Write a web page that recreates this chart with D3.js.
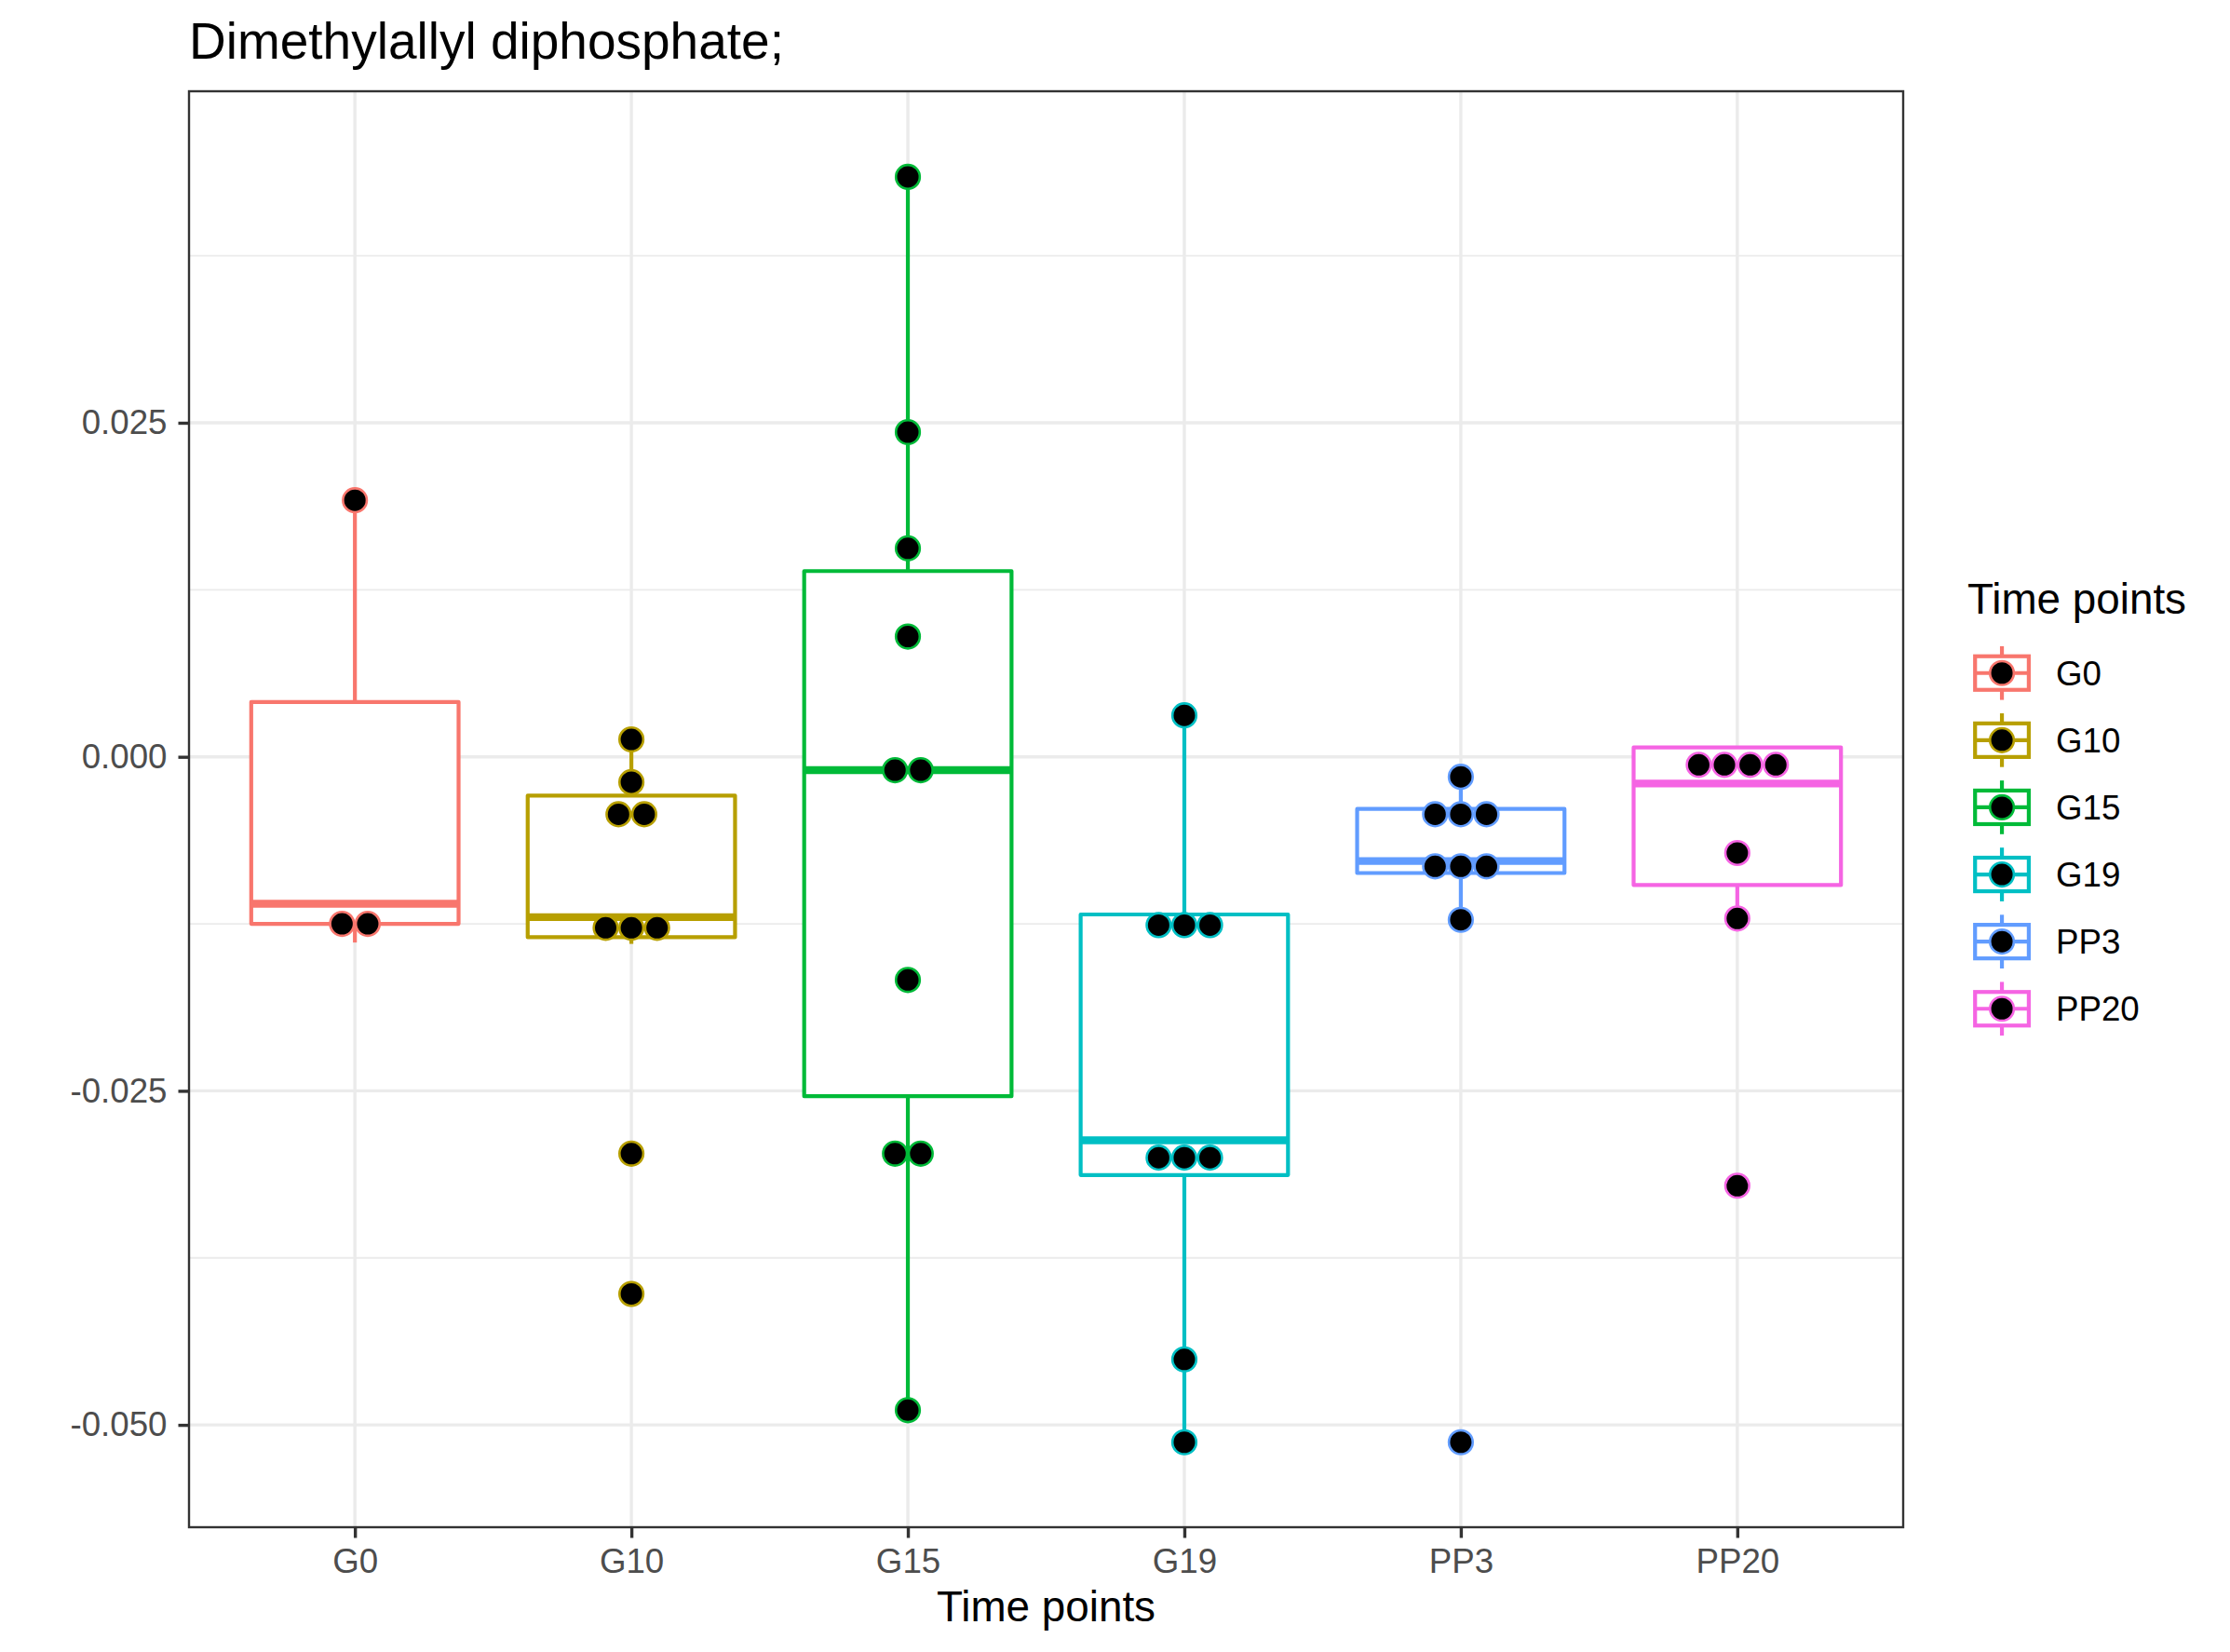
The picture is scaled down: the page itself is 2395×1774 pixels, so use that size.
<!DOCTYPE html>
<html><head><meta charset="utf-8">
<script src="https://cdn.jsdelivr.net/npm/d3@7"></script>
<style>
body{margin:0;background:#fff}
svg{display:block}
text{font-family:"Liberation Sans",Arial,Helvetica,sans-serif}
</style>
</head><body>
<svg id="chart" width="2395" height="1774"></svg>
<script>
// ---- data ----
const categories = ["G0", "G10", "G15", "G19", "PP3", "PP20"];
const colors = ["#F8766D", "#B79F00", "#00BA38", "#00BFC4", "#619CFF", "#F564E3"];
const whiskerLow  = [-0.0139, -0.0140, -0.0489, -0.0513, -0.0122, -0.0121];
const q1          = [-0.0125, -0.0135, -0.0254, -0.0313, -0.0087, -0.0096];
const median      = [-0.0110, -0.0120, -0.0010, -0.0287, -0.0078, -0.0020];
const q3          = [ 0.0041, -0.0029,  0.0139, -0.0118, -0.0039,  0.0007];
const whiskerHigh = [ 0.0192,  0.0013,  0.0434,  0.0031, -0.0015,  0.0007];
const dotValues = [
  [0.0192, -0.0125, -0.0125],
  [0.0013, -0.0019, -0.0043, -0.0043, -0.0128, -0.0128, -0.0128, -0.0297, -0.0402],
  [0.0434, 0.0243, 0.0156, 0.0090, -0.0010, -0.0010, -0.0167, -0.0297, -0.0297, -0.0489],
  [0.0031, -0.0126, -0.0126, -0.0126, -0.0300, -0.0300, -0.0300, -0.0451, -0.0513],
  [-0.0015, -0.0043, -0.0043, -0.0043, -0.0082, -0.0082, -0.0082, -0.0122, -0.0513],
  [-0.0006, -0.0006, -0.0006, -0.0006, -0.0072, -0.0121, -0.0321]
];
const yMajorTicks = [-0.05, -0.025, 0, 0.025];
const yTickLabels = ["-0.050", "-0.025", "0.000", "0.025"];
const yMinorTicks = [-0.0375, -0.0125, 0.0125, 0.0375];
const yDomain = [-0.05766, 0.04981];
const titleText = "Dimethylallyl diphosphate;";
const xTitleText = "Time points";
const legendTitleText = "Time points";

// ---- layout ----
const P = {left: 203, right: 2044, top: 98, bottom: 1640};
const svg = d3.select("#chart");
svg.append("rect").attr("width", 2395).attr("height", 1774).attr("fill", "#fff");

const x = d3.scalePoint().domain(categories).range([P.left, P.right]).padding(0.6);
const y = d3.scaleLinear().domain(yDomain).range([P.bottom, P.top]);
const boxW = x.step() * 0.75;
const dotR = 12.8, dotStroke = 2.6, dotStep = 27.6;
const lw = 4.2;

// grid
const grid = svg.append("g");
grid.selectAll("line.minor").data(yMinorTicks).join("line")
  .attr("x1", P.left).attr("x2", P.right)
  .attr("y1", d => y(d)).attr("y2", d => y(d))
  .attr("stroke", "#EBEBEB").attr("stroke-width", 1.8);
grid.selectAll("line.majy").data(yMajorTicks).join("line")
  .attr("x1", P.left).attr("x2", P.right)
  .attr("y1", d => y(d)).attr("y2", d => y(d))
  .attr("stroke", "#EBEBEB").attr("stroke-width", 3.4);
grid.selectAll("line.majx").data(categories).join("line")
  .attr("y1", P.top).attr("y2", P.bottom)
  .attr("x1", d => x(d)).attr("x2", d => x(d))
  .attr("stroke", "#EBEBEB").attr("stroke-width", 3.4);

// boxplots
const boxes = svg.append("g");
categories.forEach((c, i) => {
  const g = boxes.append("g");
  const cx = x(c), col = colors[i];
  g.append("line").attr("x1", cx).attr("x2", cx)
    .attr("y1", y(q3[i])).attr("y2", y(whiskerHigh[i]))
    .attr("stroke", col).attr("stroke-width", lw);
  g.append("line").attr("x1", cx).attr("x2", cx)
    .attr("y1", y(q1[i])).attr("y2", y(whiskerLow[i]))
    .attr("stroke", col).attr("stroke-width", lw);
  g.append("rect").attr("x", cx - boxW / 2).attr("width", boxW)
    .attr("y", y(q3[i])).attr("height", y(q1[i]) - y(q3[i]))
    .attr("fill", "#fff").attr("stroke", col).attr("stroke-width", lw)
    .attr("stroke-linejoin", "round");
  g.append("line").attr("x1", cx - boxW / 2).attr("x2", cx + boxW / 2)
    .attr("y1", y(median[i])).attr("y2", y(median[i]))
    .attr("stroke", col).attr("stroke-width", lw * 2);
});

// dots (stacked centered)
const dots = svg.append("g");
categories.forEach((c, i) => {
  const groups = d3.groups(dotValues[i], v => v);
  groups.forEach(([v, arr]) => {
    const n = arr.length;
    arr.forEach((_, k) => {
      dots.append("circle")
        .attr("cx", x(c) + (k - (n - 1) / 2) * dotStep)
        .attr("cy", y(v)).attr("r", dotR)
        .attr("fill", "#000").attr("stroke", colors[i]).attr("stroke-width", dotStroke);
    });
  });
});

// panel border
svg.append("rect").attr("x", P.left).attr("y", P.top)
  .attr("width", P.right - P.left).attr("height", P.bottom - P.top)
  .attr("fill", "none").attr("stroke", "#333333").attr("stroke-width", 2.4);

// axes
const yAxis = svg.append("g").attr("transform", `translate(${P.left},0)`)
  .call(d3.axisLeft(y).tickValues(yMajorTicks).tickFormat((d, i) => yTickLabels[i])
    .tickSize(11.5).tickPadding(12).tickSizeOuter(0));
const xAxis = svg.append("g").attr("transform", `translate(0,${P.bottom})`)
  .call(d3.axisBottom(x).tickSize(11.5).tickPadding(11.5).tickSizeOuter(0));
[yAxis, xAxis].forEach(a => {
  a.select(".domain").remove();
  a.selectAll(".tick line").attr("stroke", "#333333").attr("stroke-width", 3.4);
  a.selectAll(".tick text").attr("fill", "#4D4D4D").attr("font-size", 36.7)
    .attr("font-family", "'Liberation Sans', Arial, sans-serif");
});

// titles
svg.append("text").attr("x", 203).attr("y", 63).attr("font-size", 55)
  .attr("fill", "#000").text(titleText);
svg.append("text").attr("x", (P.left + P.right) / 2).attr("y", 1740.5)
  .attr("text-anchor", "middle").attr("font-size", 45.8).attr("fill", "#000").text(xTitleText);

// legend
const leg = svg.append("g");
leg.append("text").attr("x", 2113).attr("y", 659).attr("font-size", 45.8)
  .attr("fill", "#000").text(legendTitleText);
const keyS = 72.1, keyX = 2114, key0 = 686.7;
categories.forEach((c, i) => {
  const ky = key0 + i * keyS, cx = keyX + keyS / 2, cy = ky + keyS / 2, col = colors[i];
  const g = leg.append("g");
  g.append("rect").attr("x", keyX).attr("y", ky).attr("width", keyS).attr("height", keyS).attr("fill", "#fff");
  g.append("line").attr("x1", cx).attr("x2", cx).attr("y1", ky + keyS * 0.1).attr("y2", ky + keyS * 0.25)
    .attr("stroke", col).attr("stroke-width", lw);
  g.append("line").attr("x1", cx).attr("x2", cx).attr("y1", ky + keyS * 0.75).attr("y2", ky + keyS * 0.9)
    .attr("stroke", col).attr("stroke-width", lw);
  g.append("rect").attr("x", keyX + keyS * 0.1).attr("y", ky + keyS * 0.25)
    .attr("width", keyS * 0.8).attr("height", keyS * 0.5)
    .attr("fill", "#fff").attr("stroke", col).attr("stroke-width", lw);
  g.append("line").attr("x1", keyX + keyS * 0.1).attr("x2", keyX + keyS * 0.9)
    .attr("y1", cy).attr("y2", cy).attr("stroke", col).attr("stroke-width", lw);
  g.append("circle").attr("cx", cx).attr("cy", cy).attr("r", dotR)
    .attr("fill", "#000").attr("stroke", col).attr("stroke-width", dotStroke);
  g.append("text").attr("x", 2208).attr("y", cy + 13.2).attr("font-size", 36.7)
    .attr("fill", "#000").text(c);
});
</script>
</body></html>
